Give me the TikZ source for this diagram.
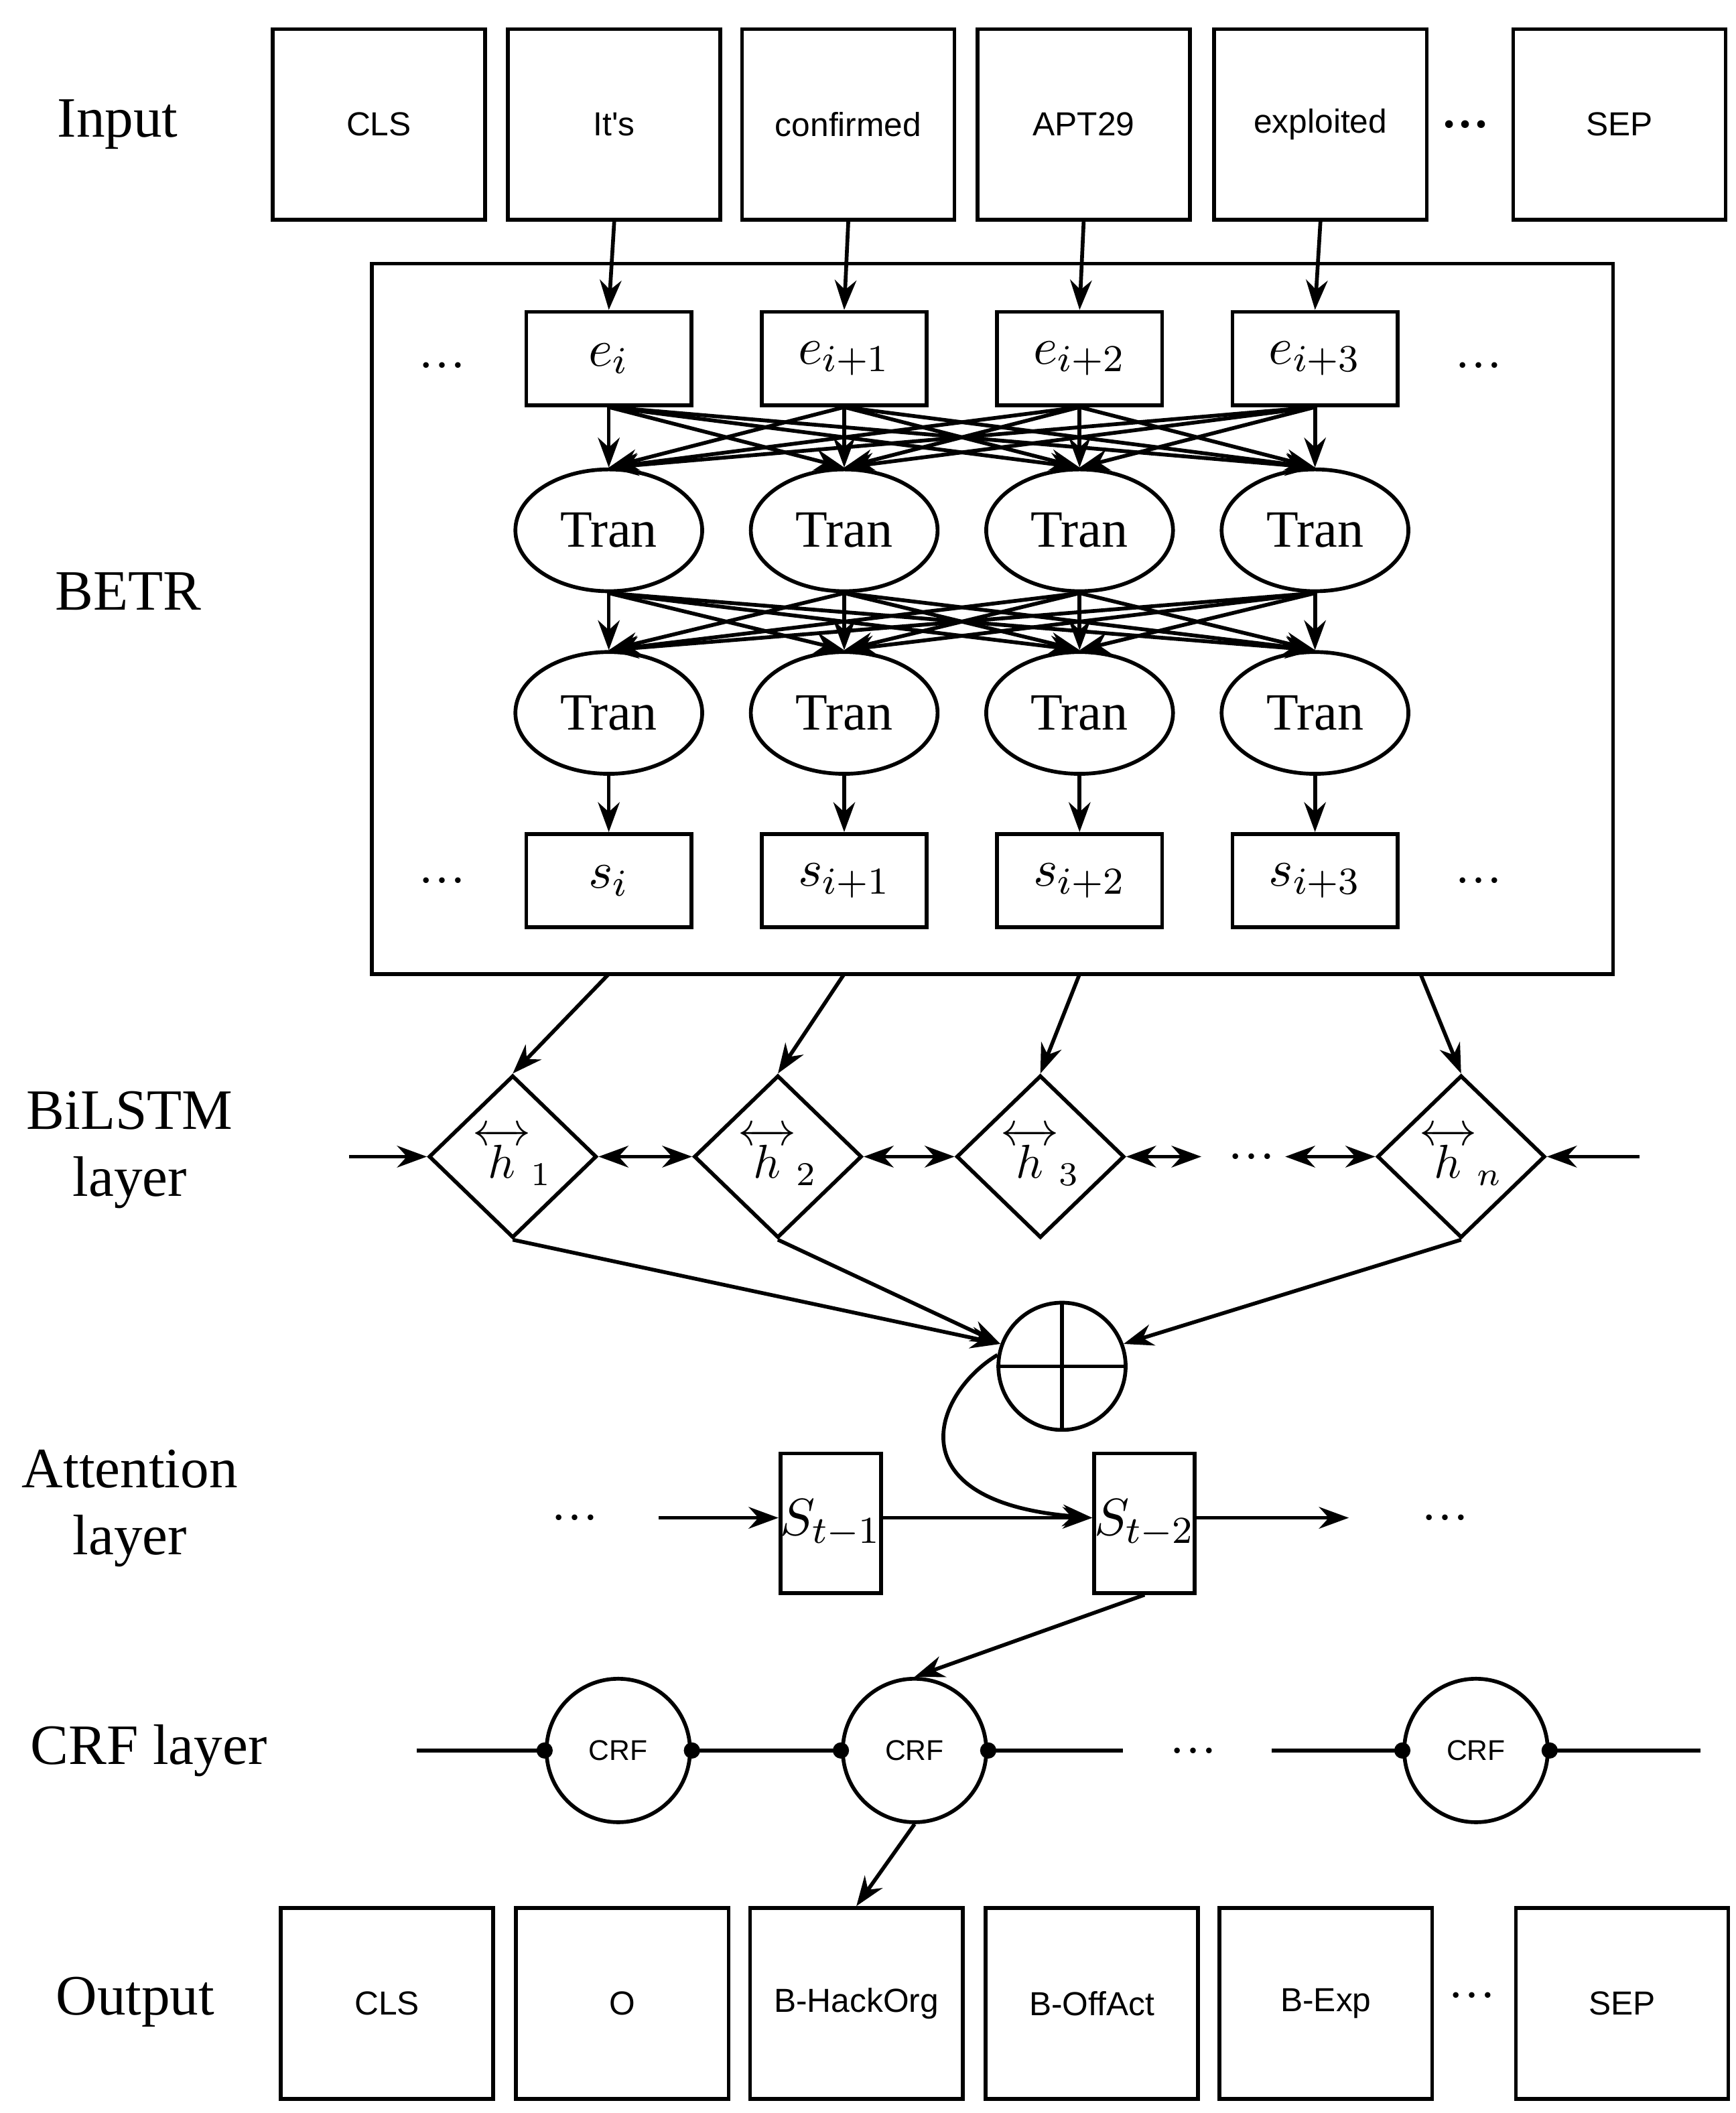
\documentclass[tikz,border=0pt]{standalone}
\usepackage{amsmath}
\usepackage{fontspec}
\setmainfont{Liberation Serif}
\newfontfamily\boxfont{Liberation Sans}
\usetikzlibrary{arrows.meta,shapes.geometric}
\begin{document}
\begin{tikzpicture}[x=0.01cm,y=-0.01cm,
  lbl/.style={font=\fontsize{12}{14}\selectfont,align=center},
  tok/.style={draw,thick,minimum width=1.57cm,minimum height=1.41cm,font=\boxfont\fontsize{7}{8}\selectfont},
  vec/.style={draw,thick,minimum width=1.22cm,minimum height=0.69cm,font=\fontsize{11}{12}\selectfont},
  tran/.style={draw,thick,ellipse,minimum width=1.38cm,minimum height=0.9cm,font=\fontsize{11}{12}\selectfont},
  dia/.style={draw,thick,diamond,minimum width=1.24cm,minimum height=1.2cm,inner sep=0pt,font=\fontsize{10}{12}\selectfont},
  crf/.style={draw,thick,circle,minimum size=1.06cm,inner sep=0pt,font=\boxfont\fontsize{6}{7}\selectfont},
  att/.style={draw,thick,minimum width=0.68cm,minimum height=1.03cm,inner sep=0pt,font=\fontsize{11}{12}\selectfont},
  arr/.style={-{Stealth[length=2.2mm,width=1.6mm]},thick},
  darr/.style={{Stealth[length=2.2mm,width=1.6mm]}-{Stealth[length=2.2mm,width=1.6mm]},thick},
  dot/.style={circle,fill,inner sep=0pt,minimum size=1.2mm}]
\useasboundingbox (0,0) rectangle (1283,1562);
% side labels
\node[lbl] (l1) at (87,92) {Input};
\node[lbl] (l2) at (95,437) {BETR};
\node[lbl] (l3) at (96,850) {BiLSTM\\layer};
\node[lbl] (l4) at (96,1115) {Attention\\layer};
\node[lbl] (l5) at (110,1294) {CRF layer};
\node[lbl] (l6) at (100,1480) {Output};
% input tokens
\node[tok] (i1) at (280,92) {CLS};
\node[tok] (i2) at (454,92) {It's};
\node[tok] (i3) at (627,92) {confirmed};
\node[tok] (i4) at (801,92) {APT29};
\node[tok] (i5) at (976,92) {exploited};
\node (idots) at (1083,92) {\textbf{\dots}};
\node[tok] (i6) at (1197,92) {SEP};
% BETR
\node[draw,thick,minimum width=9.17cm,minimum height=5.25cm] (betr) at (733.5,457.5) {};
\node (ed1) at (327,270) {\dots};
\node (ed2) at (1093,270) {\dots};
\node (sd1) at (327,651) {\dots};
\node (sd2) at (1093,651) {\dots};
\foreach \x/\n/\s [count=\k] in {450/e1/i, 624/e2/{i+1}, 798/e3/{i+2}, 972/e4/{i+3}} {
  \node[vec] (e\k) at (\x,265) {$e_{\s}$};
  \node[tran] (ta\k) at (\x,392) {Tran};
  \node[tran] (tb\k) at (\x,527) {Tran};
  \node[vec] (s\k) at (\x,651) {$s_{\s}$};
  \draw[arr] (tb\k.south) -- (s\k.north);
}
\foreach \k/\j in {2/1,3/2,4/3,5/4} \draw[arr] (i\k.south) -- (e\j.north);
\foreach \a in {1,...,4} \foreach \b in {1,...,4} {
  \draw[arr] (e\a.south) -- (ta\b.north);
  \draw[arr] (ta\a.south) -- (tb\b.north);
}
% BiLSTM
\node[dia] (h1) at (379,855) {$\overleftrightarrow{h}_1$};
\node[dia] (h2) at (575,855) {$\overleftrightarrow{h}_2$};
\node[dia] (h3) at (769,855) {$\overleftrightarrow{h}_3$};
\node[dia] (h4) at (1080,855) {$\overleftrightarrow{h}_n$};
\node (hdots) at (925,855) {\dots};
\coordinate (hl) at (258,855);
\coordinate (hr) at (1212,855);
\coordinate (hm1) at (888,855);
\coordinate (hm2) at (950,855);
\coordinate (b1) at (450,720);
\coordinate (b2) at (624,720);
\coordinate (b3) at (798,720);
\coordinate (b4) at (1050,720);
\foreach \k in {1,...,4} \draw[arr] (b\k) -- (h\k.north);
\draw[arr] (hl) -- (h1.west);
\draw[arr] (hr) -- (h4.east);
\draw[darr] (h1.east) -- (h2.west);
\draw[darr] (h2.east) -- (h3.west);
\draw[darr] (h3.east) -- (hm1);
\draw[darr] (hm2) -- (h4.west);
% sum
\node[draw,thick,circle,minimum size=0.94cm,inner sep=0pt] (sum) at (785,1010) {};
\draw[thick] (sum.north) -- (sum.south) (sum.west) -- (sum.east);
\draw[arr] (h1.south) -- (sum.160);
\draw[arr] (h2.south) -- (sum.160);
\draw[arr] (h4.south) -- (sum.20);
% attention
\node (ad1) at (425,1122) {\dots};
\node (ad2) at (1068,1122) {\dots};
\coordinate (al) at (487,1122);
\coordinate (ar) at (997,1122);
\node[att] (a1) at (614,1126) {$S_{t-1}$};
\node[att] (a2) at (846,1126) {$S_{t-2}$};
\draw[arr] (al) -- (a1.west |- al);
\draw[arr] (a1.east |- al) -- (a2.west |- al);
\draw[arr] (a2.east |- al) -- (ar);
\draw[arr] (sum.170) .. controls (690,1030) and (660,1110) .. (a2.west |- al);
% CRF
\node[crf] (c1) at (457,1294) {CRF};
\node[crf] (c2) at (676,1294) {CRF};
\node[crf] (c3) at (1091,1294) {CRF};
\node (cdots) at (882,1294) {\dots};
\coordinate (cl) at (308,1294);
\coordinate (cm1) at (830,1294);
\coordinate (cm2) at (940,1294);
\coordinate (cr) at (1257,1294);
\draw[thick] (cl) -- (c1.west) (c1.east) -- (c2.west) (c2.east) -- (cm1) (cm2) -- (c3.west) (c3.east) -- (cr);
\foreach \c in {c1,c2,c3} {\node[dot] at (\c.west) {}; \node[dot] at (\c.east) {};}
\draw[arr] (a2.south) -- (c2.north);
% output
\node[tok] (o1) at (286,1481) {CLS};
\node[tok] (o2) at (460,1481) {O};
\node[tok] (o3) at (633,1481) {B-HackOrg};
\node[tok] (o4) at (807,1481) {B-OffAct};
\node[tok] (o5) at (980,1481) {B-Exp};
\node (odots) at (1088,1475) {\dots};
\node[tok] (o6) at (1199,1481) {SEP};
\draw[arr] (c2.south) -- (o3.north);
\end{tikzpicture}
\end{document}
